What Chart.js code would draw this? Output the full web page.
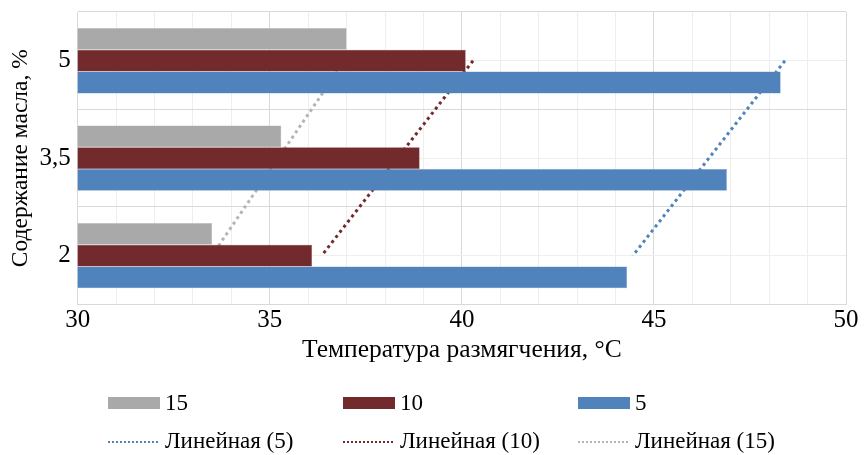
<!DOCTYPE html>
<html>
<head>
<meta charset="utf-8">
<script src="https://cdn.jsdelivr.net/npm/chart.js@4"></script>
<style>
body { margin: 0; background: #fff; }
#wrap { width: 864px; height: 455px; }
</style>
</head>
<body>
<div id="wrap"><canvas id="softChart"></canvas></div>
<script>
// categories listed top to bottom, as in the picture
const categories = ['5', '3,5', '2'];
const values15 = [37.0, 35.3, 33.5];
const values10 = [40.1, 38.9, 36.1];
const values5 = [48.3, 46.9, 44.3];
// trendline values read at each category
const trend5 = [48.41, 46.43, 44.45];
const trend10 = [40.29, 38.32, 36.35];
const trend15 = [36.95, 35.22, 33.49];
const xTicks = [30, 35, 40, 45, 50];

const serif = 'Liberation Serif';
const gray = '#a9a9a9', red = '#722a2d', blue = '#5083bb';

const legendBlock = {
    id: 'legendBlock',
    afterDraw(chart) {
        const c = chart.ctx;
        chart.data.datasets.forEach((ds, i) => {
            const x = 108 + (i % 3) * 235;
            const y = 403 + Math.floor(i / 3) * 38;
            c.save();
            if (ds.type === 'line') {
                c.strokeStyle = ds.borderColor;
                c.lineWidth = 2;
                c.setLineDash([2, 2]);
                c.beginPath();
                c.moveTo(x, y + 1);
                c.lineTo(x + 52, y + 1);
                c.stroke();
            } else {
                c.fillStyle = ds.backgroundColor;
                c.fillRect(x, y - 6, 52, 12);
            }
            c.setLineDash([]);
            c.fillStyle = '#000';
            c.font = '23px ' + serif;
            c.textBaseline = 'middle';
            c.fillText(ds.label, x + 57, y + 1);
            c.restore();
        });
    }
};

const trendLine = (label, data, color) => ({
    type: 'line',
    label: label,
    data: data,
    borderColor: color,
    borderWidth: 3,
    borderDash: [3, 3.5],
    pointRadius: 0,
    fill: false,
    tension: 0
});

new Chart(document.getElementById('softChart'), {
    type: 'bar',
    data: {
        labels: categories,
        datasets: [
            { label: '15', data: values15, backgroundColor: gray, borderColor: '#bdbdbd', borderWidth: 0.5 },
            { label: '10', data: values10, backgroundColor: red, borderColor: '#8a4a4c', borderWidth: 0.5 },
            { label: '5', data: values5, backgroundColor: blue, borderColor: '#7aa0cc', borderWidth: 0.5 },
            trendLine('Линейная (5)', trend5, blue),
            trendLine('Линейная (10)', trend10, red),
            trendLine('Линейная (15)', trend15, '#b4b4b4')
        ]
    },
    options: {
        indexAxis: 'y',
        responsive: true,
        maintainAspectRatio: false,
        animation: false,
        categoryPercentage: 0.67,
        barPercentage: 1,
        layout: { padding: { top: 12, right: 18, bottom: 89, left: 9 } },
        plugins: {
            legend: { display: false },
            tooltip: { enabled: false }
        },
        scales: {
            x: {
                min: 30,
                max: 50,
                ticks: {
                    stepSize: 1,
                    autoSkip: false,
                    maxRotation: 0,
                    color: '#000',
                    font: { family: serif, size: 25 },
                    padding: 1,
                    callback: v => xTicks.includes(v) ? v : ''
                },
                grid: {
                    drawTicks: false,
                    color: ctx => xTicks.includes(ctx.tick.value) ? '#d9d9d9' : '#eeeeee'
                },
                border: { color: '#d9d9d9' },
                title: {
                    display: true,
                    text: 'Температура размягчения, °C',
                    color: '#000',
                    font: { family: serif, size: 25.5 },
                    padding: { top: -1, bottom: 0 }
                }
            },
            y: {
                ticks: {
                    color: '#000',
                    font: { family: serif, size: 25, lineHeight: 0.3 },
                    padding: 7
                },
                grid: { drawTicks: false, color: '#d9d9d9' },
                border: { color: '#d9d9d9' },
                title: {
                    display: true,
                    text: 'Содержание масла, %',
                    color: '#000',
                    font: { family: serif, size: 23.5, lineHeight: 1 },
                    padding: { top: 0, bottom: 0 }
                }
            },
            yMid: {
                type: 'category',
                position: 'left',
                offset: true,
                ticks: { display: false },
                grid: { drawTicks: false, offset: false, color: '#eeeeee' },
                border: { display: false }
            }
        }
    },
    plugins: [legendBlock]
});
</script>
</body>
</html>
